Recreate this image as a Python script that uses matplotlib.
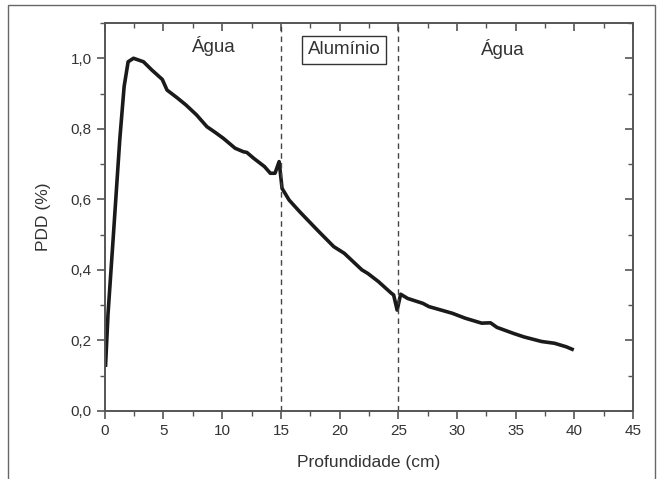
import matplotlib

matplotlib.use("Agg")
import matplotlib.pyplot as plt
from matplotlib.patches import Rectangle
from matplotlib.ticker import FuncFormatter, MultipleLocator

# PDD curve (depth in cm, relative dose)
depth = [0.07, 0.28, 0.71, 1.28, 1.65, 1.99, 2.45, 3.3, 4.0, 4.9, 5.3, 6.2, 6.9,
         7.8, 8.7, 9.4, 10.1, 11.1, 11.8, 12.1, 12.7, 13.6, 14.1, 14.5, 14.85,
         15.1, 15.7, 16.6, 18.1, 19.5, 20.4, 21.9, 22.4, 23.3, 24.4, 24.6, 24.9,
         25.2, 25.8, 27.1, 27.6, 29.6, 30.7, 32.1, 32.85, 33.4, 34.8, 35.7, 37.2,
         38.3, 39.3, 39.8]
pdd = [0.13, 0.276, 0.486, 0.77, 0.92, 0.99, 1.0, 0.99, 0.967, 0.94, 0.91, 0.887,
       0.868, 0.84, 0.806, 0.79, 0.773, 0.745, 0.735, 0.733, 0.716, 0.693, 0.674,
       0.674, 0.707, 0.631, 0.598, 0.565, 0.513, 0.466, 0.447, 0.40, 0.39, 0.367,
       0.334, 0.329, 0.286, 0.331, 0.319, 0.305, 0.296, 0.277, 0.263, 0.249, 0.25,
       0.237, 0.22, 0.21, 0.197, 0.192, 0.182, 0.175]

boundaries = [15, 25]
regions = ["Água", "Alumínio", "Água"]
region_x = [9.3, 20.4, 33.9]
region_y = [1.035, 1.024, 1.025]

plt.rcParams["font.family"] = ["Liberation Sans", "DejaVu Sans"]
grey = "#333333"

fig = plt.figure(figsize=(6.63, 4.79), dpi=100)
ax = fig.add_axes([0.158, 0.142, 0.797, 0.81])

ax.plot(depth, pdd, color="#1a1a1a", linewidth=2.6, solid_joinstyle="round")
for b in boundaries:
    ax.axvline(b, color="#444444", linestyle=(0, (4, 3)), linewidth=1.0)

for name, x, y in zip(regions, region_x, region_y):
    box = None
    if name == "Alumínio":
        box = dict(boxstyle="square,pad=0.3", facecolor="white", edgecolor=grey, linewidth=1.0)
    ax.text(x, y, name, ha="center", va="center", fontsize=13.5, color=grey, bbox=box)

ax.set_xlim(0, 45)
ax.set_ylim(0, 1.1)
ax.xaxis.set_major_locator(MultipleLocator(5))
ax.xaxis.set_minor_locator(MultipleLocator(2.5))
ax.yaxis.set_major_locator(MultipleLocator(0.2))
ax.yaxis.set_minor_locator(MultipleLocator(0.1))
ax.yaxis.set_major_formatter(FuncFormatter(lambda v, _: f"{v:.1f}".replace(".", ",")))

ax.set_xlabel("Profundidade (cm)", fontsize=12.5, color=grey, labelpad=12)
ax.set_ylabel("PDD (%)", fontsize=12.5, color=grey, labelpad=14)

for s in ax.spines.values():
    s.set_color("#555555")
    s.set_linewidth(1.4)
ax.tick_params(which="both", direction="out", colors="#555555", labelcolor=grey, labelsize=11)
ax.tick_params(which="major", length=6, width=1.2)
ax.tick_params(which="minor", length=3.5, width=1.0)

# mirrored inward ticks on top and right, like Origin
top = ax.secondary_xaxis("top")
top.xaxis.set_major_locator(MultipleLocator(5))
top.xaxis.set_minor_locator(MultipleLocator(2.5))
top.tick_params(which="both", direction="in", colors="#555555", labeltop=False)
top.tick_params(which="major", length=6, width=1.2)
top.tick_params(which="minor", length=3.5, width=1.0)
top.spines["top"].set_visible(False)
right = ax.secondary_yaxis("right")
right.yaxis.set_major_locator(MultipleLocator(0.2))
right.yaxis.set_minor_locator(MultipleLocator(0.1))
right.tick_params(which="both", direction="in", colors="#555555", labelright=False)
right.tick_params(which="major", length=6, width=1.2)
right.tick_params(which="minor", length=3.5, width=1.0)
right.spines["right"].set_visible(False)

# thin frame around the figure (bottom edge runs off the image)
fig.patches.append(Rectangle((0.012, -0.02), 0.976, 1.01, transform=fig.transFigure,
                             fill=False, edgecolor="#666666", linewidth=1.0))

fig.savefig("out.png", dpi=100)
